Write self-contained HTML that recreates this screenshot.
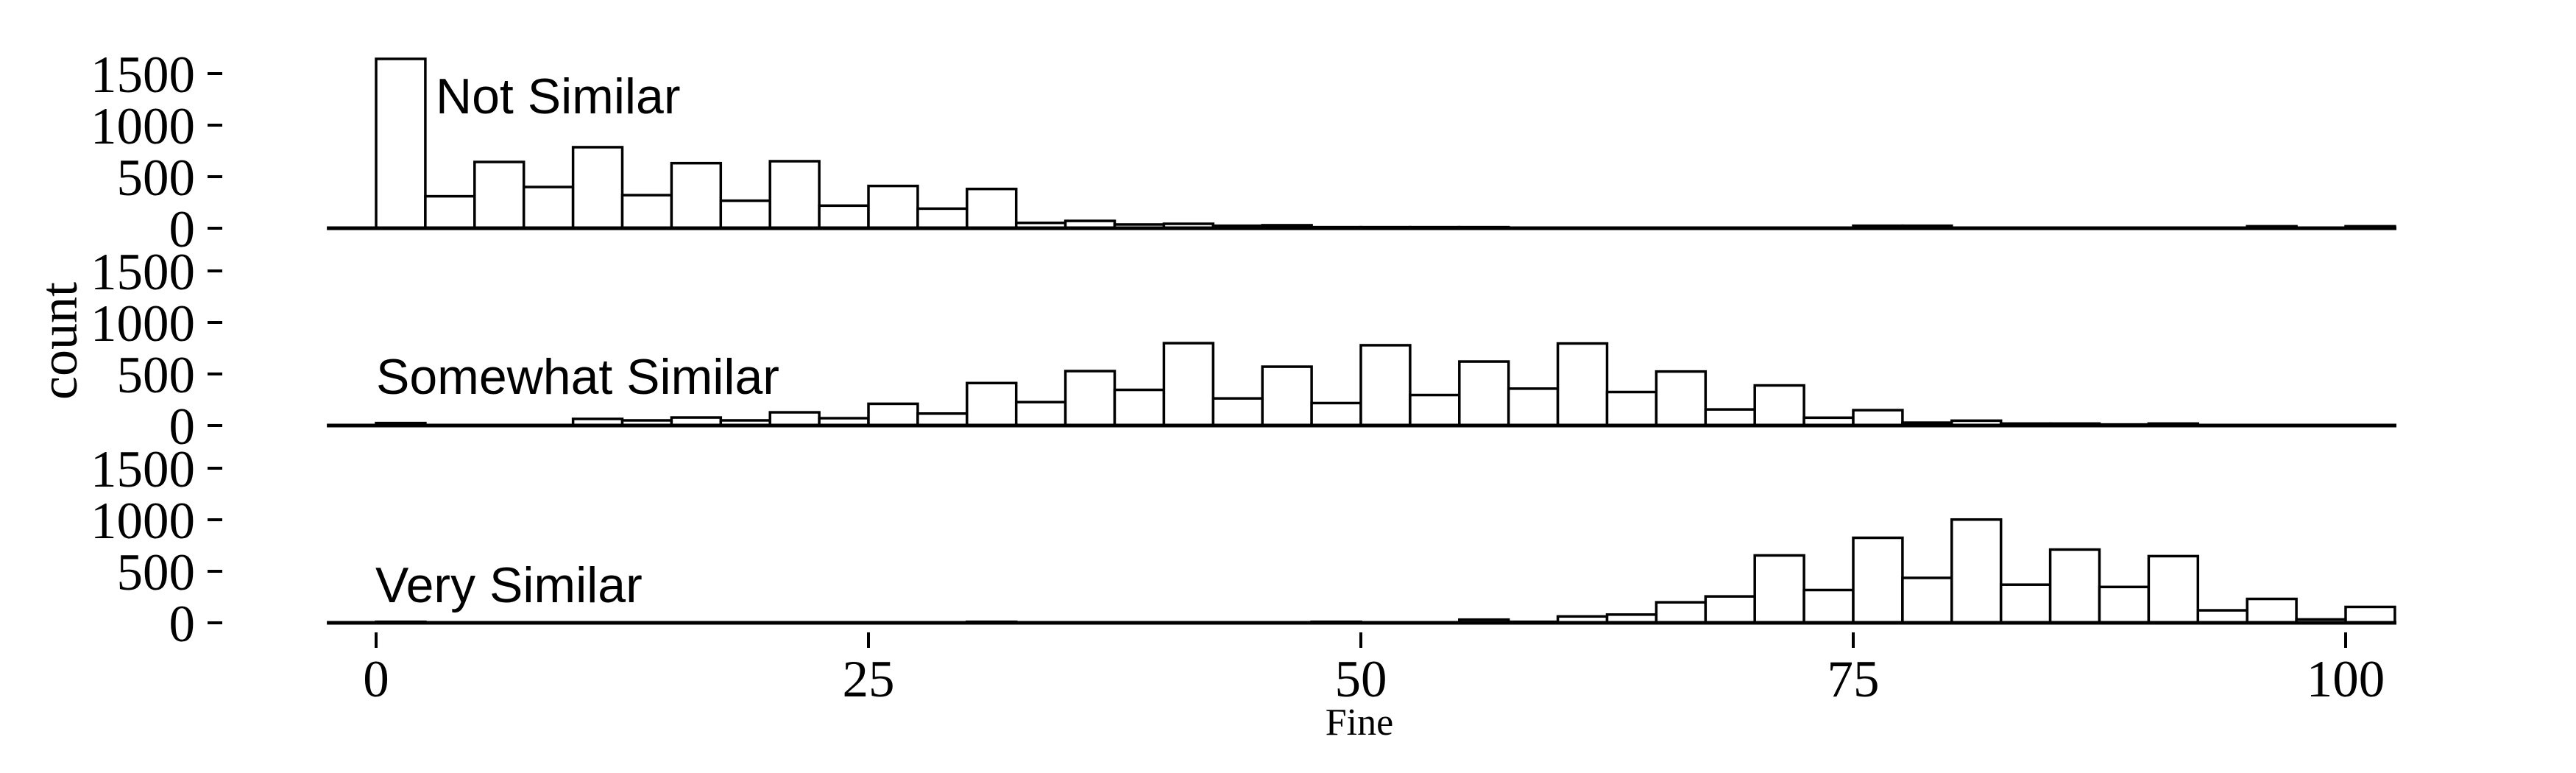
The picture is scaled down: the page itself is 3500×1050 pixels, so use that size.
<!DOCTYPE html>
<html><head><meta charset="utf-8"><style>
html,body{margin:0;padding:0;background:#fff;}
svg{display:block;}
.tick{font-family:"Liberation Serif",serif;font-size:71px;fill:#000;}
.strip{font-family:"Liberation Sans",sans-serif;font-size:68px;fill:#000;}
</style></head><body>
<svg id="chart" width="3500" height="1050" viewBox="0 0 3500 1050" xmlns="http://www.w3.org/2000/svg">
<g id="panels"></g>
<text x="1847" y="998" text-anchor="middle" font-family="Liberation Serif, serif" font-size="52">Fine</text>
<text transform="translate(104,463) rotate(-90)" text-anchor="middle" font-family="Liberation Serif, serif" font-size="72">count</text>
</svg>
<script>
const binWidth = 2.5;
const facetLabels = ["Not Similar", "Somewhat Similar", "Very Similar"];
const notSimilar = [1643,310,643,400,786,321,631,267,650,219,410,190,381,52,71,36,43,24,29,10,10,10,10,5,5,5,5,5,5,5,24,24,5,5,5,5,5,5,19,5,19];
const somewhatSimilar = [24,5,5,5,64,50,78,50,128,71,211,116,412,227,528,346,799,263,571,218,779,296,621,358,796,325,524,156,389,76,149,28,47,19,19,10,19,5,5,5,5];
const verySimilar = [10,0,0,0,0,0,0,0,0,0,0,0,10,0,0,0,0,0,0,10,5,5,31,10,62,80,199,256,654,318,825,436,1002,370,711,348,647,121,232,33,154];
const yTicks = [0, 500, 1000, 1500];
const xTicks = [0, 25, 50, 75, 100];

const NS = "http://www.w3.org/2000/svg";
const series = [notSimilar, somewhatSimilar, verySimilar];
const baselines = [310, 578, 846];
const labelPos = [[592,154],[511,535],[510,818]];
function X(v){ return 511 + v * 26.76; }
function Yh(c){ return c * 210 / 1500; }
function mk(tag, attrs, parent){
  const e = document.createElementNS(NS, tag);
  for (const k in attrs) e.setAttribute(k, attrs[k]);
  parent.appendChild(e); return e;
}
const root = document.getElementById('panels');
series.forEach((vals, p) => {
  const b = baselines[p];
  const g = mk('g', {}, root);
  
  
  vals.forEach((v, i) => {
    const x0 = X(i * binWidth), x1 = X((i + 1) * binWidth);
    const h = Yh(v);
    const r = mk('rect', {x: x0, y: b - h, width: x1 - x0, height: h, fill: '#fff', stroke: '#000', 'stroke-width': 3.5}, g);
    
    
  });
  const ax = mk('line', {x1: X(-2.5), x2: 3256, y1: b, y2: b, stroke: '#000', 'stroke-width': 5}, g);
  
  
  yTicks.forEach(t => {
    const y = b - Yh(t);
    const tk = mk('line', {x1: 282, x2: 302, y1: y, y2: y, stroke: '#000', 'stroke-width': 4}, g);
    
    
    const tx = mk('text', {x: 265, y: y + 25, 'text-anchor': 'end', class: 'tick'}, g);
    tx.textContent = t;
    
    
  });
  const lab = mk('text', {x: labelPos[p][0], y: labelPos[p][1], class: 'strip'}, g);
  lab.textContent = facetLabels[p];
  
  
});
xTicks.forEach(t => {
  const x = X(t);
  const tk = mk('line', {x1: x, x2: x, y1: 859, y2: 880, stroke: '#000', 'stroke-width': 4}, root);
  
  
  const tx = mk('text', {x: x, y: 946, 'text-anchor': 'middle', class: 'tick'}, root);
  tx.textContent = t;
  
  
});
</script>
</body></html>
